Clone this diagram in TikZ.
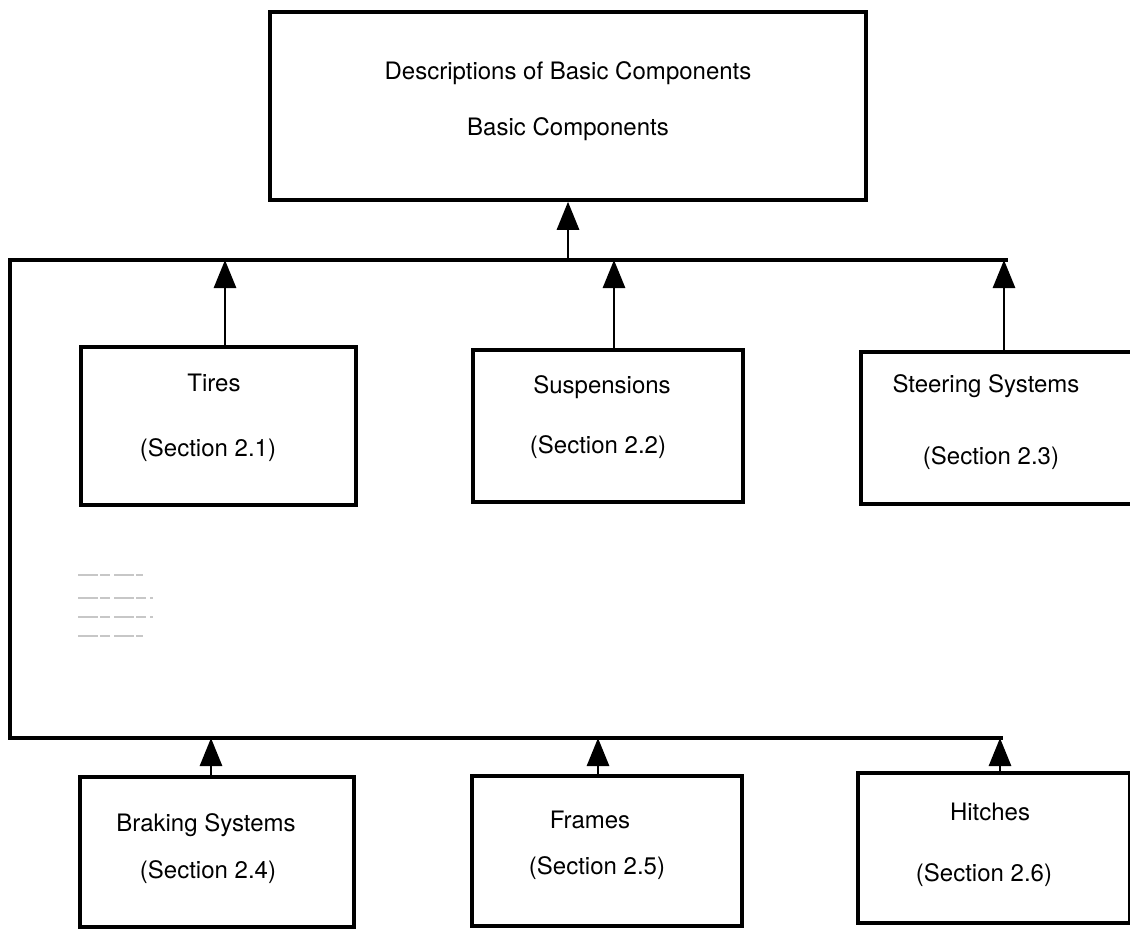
\documentclass[tikz,border=0pt]{standalone}
\usepackage{fontspec}
\setmainfont{TeX Gyre Heros}
\usetikzlibrary{arrows.meta}
\begin{document}
\begin{tikzpicture}[x=1pt,y=-1pt,
  box/.style={draw=black,line width=3.5pt,rectangle,inner sep=0pt},
  lbl/.style={inner sep=0pt,font=\fontsize{24}{28}\selectfont},
  bus/.style={draw=black,line width=4pt,line cap=rect},
  conn/.style={draw=black,line width=2.8pt,-{Triangle[length=28pt,width=22pt]}},
  scan/.style={draw=black!22,line width=1.2pt,dash pattern=on 20pt off 2pt on 10pt off 4pt}]
\useasboundingbox (0,0) rectangle (1130,929);
\clip (0,0) rectangle (1130,929);
\fill[white] (0,0) rectangle (1130,929);
% top box
\node[box,minimum width=596pt,minimum height=188pt] (top) at (568,106) {};
\node[lbl] (topa) at (568,73) {Descriptions of Basic Components};
\node[lbl] (topb) at (568,129) {Basic Components};
% row 1 boxes
\node[box,minimum width=275pt,minimum height=158pt] (tires) at (218.5,426) {};
\node[lbl] (tiresa) at (214,383) {Tires};
\node[lbl] (tiresb) at (208,450) {(Section 2.1)};
\node[box,minimum width=270pt,minimum height=152pt] (susp) at (608,426) {};
\node[lbl] (suspa) at (602,387) {Suspensions};
\node[lbl] (suspb) at (598,447) {(Section 2.2)};
\node[box,minimum width=276pt,minimum height=152pt] (steer) at (999,428) {};
\node[lbl] (steera) at (986,386) {Steering Systems};
\node[lbl] (steerb) at (991,458) {(Section 2.3)};
% row 2 boxes
\node[box,minimum width=274pt,minimum height=150pt] (brak) at (217,852) {};
\node[lbl] (braka) at (206,825) {Braking Systems};
\node[lbl] (brakb) at (208,872) {(Section 2.4)};
\node[box,minimum width=270pt,minimum height=150pt] (fram) at (607,851) {};
\node[lbl] (frama) at (590,820) {Frames};
\node[lbl] (framb) at (597,868) {(Section 2.5)};
\node[box,minimum width=272pt,minimum height=150pt] (hitch) at (994,848) {};
\node[lbl] (hitcha) at (990,812) {Hitches};
\node[lbl] (hitchb) at (984,875) {(Section 2.6)};
% bus lines
\coordinate (busTL) at (10,260);
\coordinate (busTR) at (1006,260);
\coordinate (busBL) at (10,738);
\coordinate (busBR) at (1001,738);
\draw[bus] (busTR) -- (busTL) -- (busBL) -- (busBR);
% arrow tips on buses
\coordinate (aTop) at (568,260);
\coordinate (a1) at (225,260);
\coordinate (a2) at (614,260);
\coordinate (a3) at (1004,260);
\coordinate (a4) at (211,738);
\coordinate (a5) at (598,738);
\coordinate (a6) at (1000,738);
\draw[conn] (aTop) -- (aTop |- top.south);
\draw[conn] (a1 |- tires.north) -- (a1);
\draw[conn] (a2 |- susp.north) -- (a2);
\draw[conn] (a3 |- steer.north) -- (a3);
\draw[conn] (a4 |- brak.north) -- (a4);
\draw[conn] (a5 |- fram.north) -- (a5);
\draw[conn] (a6 |- hitch.north) -- (a6);
% faint scan marks
\draw[scan] (78,575) -- (143,575);
\draw[scan] (78,598) -- (153,598);
\draw[scan] (78,617) -- (153,617);
\draw[scan] (78,636) -- (143,636);
\end{tikzpicture}
\end{document}
